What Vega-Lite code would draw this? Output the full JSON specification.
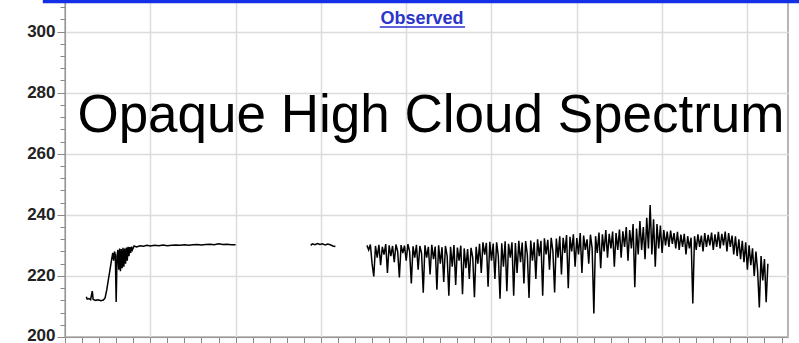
{
  "$schema": "https://vega.github.io/schema/vega-lite/v6.json",
  "width": 723,
  "height": 336,
  "autosize": {"type": "none"},
  "padding": {"left": 65, "top": 1, "right": 11, "bottom": 6},
  "background": "white",
  "config": {
    "view": {"stroke": "#b5b5b5", "strokeWidth": 2},
    "font": "Liberation Sans"
  },
  "datasets": {
    "spectrum": [
      {"seg": 1, "x": 625, "y": 213.2}, {"seg": 1, "x": 626, "y": 212.4}, {"seg": 1, "x": 628, "y": 212.6}, {"seg": 1, "x": 630, "y": 212.2},
      {"seg": 1, "x": 632, "y": 215.0}, {"seg": 1, "x": 633, "y": 212.3}, {"seg": 1, "x": 636, "y": 212.0}, {"seg": 1, "x": 639, "y": 212.2},
      {"seg": 1, "x": 642, "y": 211.9}, {"seg": 1, "x": 645, "y": 212.1}, {"seg": 1, "x": 647, "y": 212.8}, {"seg": 1, "x": 649, "y": 215.5},
      {"seg": 1, "x": 651, "y": 219.0}, {"seg": 1, "x": 653, "y": 222.5}, {"seg": 1, "x": 655, "y": 226.0}, {"seg": 1, "x": 656, "y": 227.5},
      {"seg": 1, "x": 657, "y": 225.0}, {"seg": 1, "x": 658, "y": 228.0}, {"seg": 1, "x": 659, "y": 227.0}, {"seg": 1, "x": 660, "y": 211.5},
      {"seg": 1, "x": 661, "y": 226.5}, {"seg": 1, "x": 662, "y": 228.5}, {"seg": 1, "x": 663, "y": 222.0}, {"seg": 1, "x": 664, "y": 229.0},
      {"seg": 1, "x": 665, "y": 221.5}, {"seg": 1, "x": 666, "y": 228.8}, {"seg": 1, "x": 667, "y": 222.5}, {"seg": 1, "x": 668, "y": 229.2},
      {"seg": 1, "x": 669, "y": 223.0}, {"seg": 1, "x": 670, "y": 229.0}, {"seg": 1, "x": 671, "y": 224.0}, {"seg": 1, "x": 672, "y": 229.3},
      {"seg": 1, "x": 673, "y": 225.0}, {"seg": 1, "x": 674, "y": 229.5}, {"seg": 1, "x": 675, "y": 226.5}, {"seg": 1, "x": 676, "y": 229.4},
      {"seg": 1, "x": 677, "y": 227.5}, {"seg": 1, "x": 678, "y": 229.6}, {"seg": 1, "x": 679, "y": 228.5}, {"seg": 1, "x": 681, "y": 229.8},
      {"seg": 1, "x": 684, "y": 229.5}, {"seg": 1, "x": 688, "y": 229.9}, {"seg": 1, "x": 692, "y": 229.7}, {"seg": 1, "x": 696, "y": 230.0},
      {"seg": 1, "x": 700, "y": 229.8}, {"seg": 1, "x": 705, "y": 230.0}, {"seg": 1, "x": 710, "y": 229.9}, {"seg": 1, "x": 715, "y": 230.1},
      {"seg": 1, "x": 720, "y": 229.9}, {"seg": 1, "x": 725, "y": 230.0}, {"seg": 1, "x": 730, "y": 230.1}, {"seg": 1, "x": 735, "y": 230.0},
      {"seg": 1, "x": 740, "y": 230.2}, {"seg": 1, "x": 745, "y": 230.0}, {"seg": 1, "x": 750, "y": 230.2}, {"seg": 1, "x": 755, "y": 230.3},
      {"seg": 1, "x": 760, "y": 230.1}, {"seg": 1, "x": 765, "y": 230.3}, {"seg": 1, "x": 770, "y": 230.4}, {"seg": 1, "x": 775, "y": 230.2},
      {"seg": 1, "x": 780, "y": 230.5}, {"seg": 1, "x": 785, "y": 230.3}, {"seg": 1, "x": 790, "y": 230.4}, {"seg": 1, "x": 795, "y": 230.2},
      {"seg": 1, "x": 800, "y": 230.2},
      {"seg": 2, "x": 888, "y": 230.0}, {"seg": 2, "x": 890, "y": 230.5}, {"seg": 2, "x": 893, "y": 230.2}, {"seg": 2, "x": 896, "y": 230.6},
      {"seg": 2, "x": 899, "y": 230.3}, {"seg": 2, "x": 902, "y": 230.5}, {"seg": 2, "x": 905, "y": 230.1}, {"seg": 2, "x": 908, "y": 230.4},
      {"seg": 2, "x": 911, "y": 230.2}, {"seg": 2, "x": 914, "y": 229.8}, {"seg": 2, "x": 917, "y": 229.6},
      {"seg": 3, "x": 954, "y": 230.0}, {"seg": 3, "x": 956, "y": 228.5}, {"seg": 3, "x": 958, "y": 230.3}, {"seg": 3, "x": 960, "y": 224.0},
      {"seg": 3, "x": 962, "y": 219.8}, {"seg": 3, "x": 964, "y": 229.8}, {"seg": 3, "x": 966, "y": 226.0}, {"seg": 3, "x": 968, "y": 230.2},
      {"seg": 3, "x": 970, "y": 223.5}, {"seg": 3, "x": 972, "y": 229.5}, {"seg": 3, "x": 974, "y": 227.0}, {"seg": 3, "x": 976, "y": 230.4},
      {"seg": 3, "x": 978, "y": 221.0}, {"seg": 3, "x": 980, "y": 230.0}, {"seg": 3, "x": 982, "y": 226.5}, {"seg": 3, "x": 984, "y": 229.8},
      {"seg": 3, "x": 986, "y": 224.5}, {"seg": 3, "x": 988, "y": 230.3}, {"seg": 3, "x": 990, "y": 228.0}, {"seg": 3, "x": 992, "y": 219.5},
      {"seg": 3, "x": 994, "y": 230.1}, {"seg": 3, "x": 996, "y": 227.5}, {"seg": 3, "x": 998, "y": 229.9}, {"seg": 3, "x": 1000, "y": 225.0},
      {"seg": 3, "x": 1002, "y": 230.4}, {"seg": 3, "x": 1004, "y": 228.0}, {"seg": 3, "x": 1006, "y": 217.5}, {"seg": 3, "x": 1008, "y": 229.7},
      {"seg": 3, "x": 1010, "y": 226.0}, {"seg": 3, "x": 1012, "y": 230.2}, {"seg": 3, "x": 1014, "y": 222.0}, {"seg": 3, "x": 1016, "y": 229.8},
      {"seg": 3, "x": 1018, "y": 227.5}, {"seg": 3, "x": 1020, "y": 214.5}, {"seg": 3, "x": 1022, "y": 230.0}, {"seg": 3, "x": 1024, "y": 226.0},
      {"seg": 3, "x": 1026, "y": 229.5}, {"seg": 3, "x": 1028, "y": 220.5}, {"seg": 3, "x": 1030, "y": 230.2}, {"seg": 3, "x": 1032, "y": 225.5},
      {"seg": 3, "x": 1034, "y": 229.6}, {"seg": 3, "x": 1036, "y": 215.5}, {"seg": 3, "x": 1038, "y": 230.0}, {"seg": 3, "x": 1040, "y": 224.0},
      {"seg": 3, "x": 1042, "y": 229.4}, {"seg": 3, "x": 1044, "y": 218.0}, {"seg": 3, "x": 1046, "y": 229.8}, {"seg": 3, "x": 1048, "y": 226.5},
      {"seg": 3, "x": 1050, "y": 213.5}, {"seg": 3, "x": 1052, "y": 229.5}, {"seg": 3, "x": 1054, "y": 223.0}, {"seg": 3, "x": 1056, "y": 230.1},
      {"seg": 3, "x": 1058, "y": 217.0}, {"seg": 3, "x": 1060, "y": 229.3}, {"seg": 3, "x": 1062, "y": 225.0}, {"seg": 3, "x": 1064, "y": 229.9},
      {"seg": 3, "x": 1066, "y": 214.0}, {"seg": 3, "x": 1068, "y": 229.0}, {"seg": 3, "x": 1070, "y": 222.5}, {"seg": 3, "x": 1072, "y": 228.8},
      {"seg": 3, "x": 1074, "y": 219.0}, {"seg": 3, "x": 1076, "y": 229.2}, {"seg": 3, "x": 1078, "y": 226.0}, {"seg": 3, "x": 1080, "y": 213.0},
      {"seg": 3, "x": 1082, "y": 229.5}, {"seg": 3, "x": 1084, "y": 224.0}, {"seg": 3, "x": 1086, "y": 230.5}, {"seg": 3, "x": 1088, "y": 221.0},
      {"seg": 3, "x": 1090, "y": 231.0}, {"seg": 3, "x": 1092, "y": 227.0}, {"seg": 3, "x": 1094, "y": 230.8}, {"seg": 3, "x": 1096, "y": 216.5},
      {"seg": 3, "x": 1098, "y": 231.2}, {"seg": 3, "x": 1100, "y": 225.0}, {"seg": 3, "x": 1102, "y": 230.6}, {"seg": 3, "x": 1104, "y": 219.0},
      {"seg": 3, "x": 1106, "y": 231.0}, {"seg": 3, "x": 1108, "y": 226.5}, {"seg": 3, "x": 1110, "y": 212.5}, {"seg": 3, "x": 1112, "y": 230.7},
      {"seg": 3, "x": 1114, "y": 223.0}, {"seg": 3, "x": 1116, "y": 231.3}, {"seg": 3, "x": 1118, "y": 215.0}, {"seg": 3, "x": 1120, "y": 230.5},
      {"seg": 3, "x": 1122, "y": 226.0}, {"seg": 3, "x": 1124, "y": 231.0}, {"seg": 3, "x": 1126, "y": 213.5}, {"seg": 3, "x": 1128, "y": 230.8},
      {"seg": 3, "x": 1130, "y": 221.0}, {"seg": 3, "x": 1132, "y": 231.5}, {"seg": 3, "x": 1134, "y": 224.5}, {"seg": 3, "x": 1136, "y": 230.9},
      {"seg": 3, "x": 1138, "y": 217.5}, {"seg": 3, "x": 1140, "y": 231.4}, {"seg": 3, "x": 1142, "y": 227.0}, {"seg": 3, "x": 1144, "y": 212.8},
      {"seg": 3, "x": 1146, "y": 231.6}, {"seg": 3, "x": 1148, "y": 225.0}, {"seg": 3, "x": 1150, "y": 231.0}, {"seg": 3, "x": 1152, "y": 219.0},
      {"seg": 3, "x": 1154, "y": 232.0}, {"seg": 3, "x": 1156, "y": 226.5}, {"seg": 3, "x": 1158, "y": 231.5}, {"seg": 3, "x": 1160, "y": 213.5},
      {"seg": 3, "x": 1162, "y": 232.3}, {"seg": 3, "x": 1164, "y": 227.0}, {"seg": 3, "x": 1166, "y": 231.8}, {"seg": 3, "x": 1168, "y": 222.0},
      {"seg": 3, "x": 1170, "y": 232.5}, {"seg": 3, "x": 1172, "y": 228.0}, {"seg": 3, "x": 1174, "y": 214.6}, {"seg": 3, "x": 1176, "y": 232.2},
      {"seg": 3, "x": 1178, "y": 226.0}, {"seg": 3, "x": 1180, "y": 233.0}, {"seg": 3, "x": 1182, "y": 220.5}, {"seg": 3, "x": 1184, "y": 232.5},
      {"seg": 3, "x": 1186, "y": 227.5}, {"seg": 3, "x": 1188, "y": 233.4}, {"seg": 3, "x": 1190, "y": 216.0}, {"seg": 3, "x": 1192, "y": 232.8},
      {"seg": 3, "x": 1194, "y": 228.0}, {"seg": 3, "x": 1196, "y": 233.6}, {"seg": 3, "x": 1198, "y": 223.0}, {"seg": 3, "x": 1200, "y": 232.4},
      {"seg": 3, "x": 1202, "y": 227.0}, {"seg": 3, "x": 1204, "y": 234.0}, {"seg": 3, "x": 1206, "y": 221.0}, {"seg": 3, "x": 1208, "y": 233.2},
      {"seg": 3, "x": 1210, "y": 228.5}, {"seg": 3, "x": 1212, "y": 232.0}, {"seg": 3, "x": 1214, "y": 224.0}, {"seg": 3, "x": 1216, "y": 233.5},
      {"seg": 3, "x": 1218, "y": 229.0}, {"seg": 3, "x": 1220, "y": 207.7}, {"seg": 3, "x": 1222, "y": 233.0}, {"seg": 3, "x": 1224, "y": 227.5},
      {"seg": 3, "x": 1226, "y": 234.2}, {"seg": 3, "x": 1228, "y": 222.5}, {"seg": 3, "x": 1230, "y": 233.6}, {"seg": 3, "x": 1232, "y": 228.0},
      {"seg": 3, "x": 1234, "y": 235.0}, {"seg": 3, "x": 1236, "y": 226.0}, {"seg": 3, "x": 1238, "y": 233.8}, {"seg": 3, "x": 1240, "y": 229.0},
      {"seg": 3, "x": 1242, "y": 234.5}, {"seg": 3, "x": 1244, "y": 223.0}, {"seg": 3, "x": 1246, "y": 234.0}, {"seg": 3, "x": 1248, "y": 228.5},
      {"seg": 3, "x": 1250, "y": 235.2}, {"seg": 3, "x": 1252, "y": 226.0}, {"seg": 3, "x": 1254, "y": 234.6}, {"seg": 3, "x": 1256, "y": 229.5},
      {"seg": 3, "x": 1258, "y": 236.0}, {"seg": 3, "x": 1260, "y": 225.0}, {"seg": 3, "x": 1262, "y": 235.0}, {"seg": 3, "x": 1264, "y": 229.0},
      {"seg": 3, "x": 1266, "y": 237.0}, {"seg": 3, "x": 1268, "y": 216.3}, {"seg": 3, "x": 1270, "y": 235.5}, {"seg": 3, "x": 1272, "y": 227.0},
      {"seg": 3, "x": 1274, "y": 238.0}, {"seg": 3, "x": 1276, "y": 228.5}, {"seg": 3, "x": 1278, "y": 236.0}, {"seg": 3, "x": 1280, "y": 225.5},
      {"seg": 3, "x": 1282, "y": 239.0}, {"seg": 3, "x": 1284, "y": 229.0}, {"seg": 3, "x": 1286, "y": 243.2}, {"seg": 3, "x": 1288, "y": 227.0},
      {"seg": 3, "x": 1290, "y": 238.5}, {"seg": 3, "x": 1292, "y": 223.0}, {"seg": 3, "x": 1294, "y": 237.0}, {"seg": 3, "x": 1296, "y": 229.0},
      {"seg": 3, "x": 1298, "y": 236.5}, {"seg": 3, "x": 1300, "y": 227.5}, {"seg": 3, "x": 1302, "y": 235.0}, {"seg": 3, "x": 1304, "y": 230.0},
      {"seg": 3, "x": 1306, "y": 234.5}, {"seg": 3, "x": 1308, "y": 229.5}, {"seg": 3, "x": 1310, "y": 234.8}, {"seg": 3, "x": 1312, "y": 230.5},
      {"seg": 3, "x": 1314, "y": 234.0}, {"seg": 3, "x": 1316, "y": 229.0}, {"seg": 3, "x": 1318, "y": 234.4}, {"seg": 3, "x": 1320, "y": 228.5},
      {"seg": 3, "x": 1322, "y": 233.5}, {"seg": 3, "x": 1324, "y": 229.5}, {"seg": 3, "x": 1326, "y": 233.8}, {"seg": 3, "x": 1328, "y": 227.0},
      {"seg": 3, "x": 1330, "y": 233.0}, {"seg": 3, "x": 1332, "y": 229.0}, {"seg": 3, "x": 1334, "y": 232.5}, {"seg": 3, "x": 1336, "y": 211.0},
      {"seg": 3, "x": 1338, "y": 233.0}, {"seg": 3, "x": 1340, "y": 228.5}, {"seg": 3, "x": 1342, "y": 233.6}, {"seg": 3, "x": 1344, "y": 229.5},
      {"seg": 3, "x": 1346, "y": 233.2}, {"seg": 3, "x": 1348, "y": 228.0}, {"seg": 3, "x": 1350, "y": 234.0}, {"seg": 3, "x": 1352, "y": 229.5},
      {"seg": 3, "x": 1354, "y": 233.4}, {"seg": 3, "x": 1356, "y": 230.0}, {"seg": 3, "x": 1358, "y": 234.2}, {"seg": 3, "x": 1360, "y": 228.5},
      {"seg": 3, "x": 1362, "y": 233.6}, {"seg": 3, "x": 1364, "y": 229.5}, {"seg": 3, "x": 1366, "y": 234.4}, {"seg": 3, "x": 1368, "y": 229.0},
      {"seg": 3, "x": 1370, "y": 233.8}, {"seg": 3, "x": 1372, "y": 230.0}, {"seg": 3, "x": 1374, "y": 234.5}, {"seg": 3, "x": 1376, "y": 228.0},
      {"seg": 3, "x": 1378, "y": 234.0}, {"seg": 3, "x": 1380, "y": 229.5}, {"seg": 3, "x": 1382, "y": 233.2}, {"seg": 3, "x": 1384, "y": 227.0},
      {"seg": 3, "x": 1386, "y": 233.0}, {"seg": 3, "x": 1388, "y": 226.5}, {"seg": 3, "x": 1390, "y": 232.0}, {"seg": 3, "x": 1392, "y": 225.5},
      {"seg": 3, "x": 1394, "y": 231.5}, {"seg": 3, "x": 1396, "y": 224.5}, {"seg": 3, "x": 1398, "y": 231.0}, {"seg": 3, "x": 1400, "y": 222.0},
      {"seg": 3, "x": 1402, "y": 230.0}, {"seg": 3, "x": 1404, "y": 223.5}, {"seg": 3, "x": 1406, "y": 229.0}, {"seg": 3, "x": 1408, "y": 220.0},
      {"seg": 3, "x": 1410, "y": 228.0}, {"seg": 3, "x": 1412, "y": 221.5}, {"seg": 3, "x": 1414, "y": 209.7}, {"seg": 3, "x": 1416, "y": 226.5},
      {"seg": 3, "x": 1418, "y": 218.5}, {"seg": 3, "x": 1420, "y": 225.5}, {"seg": 3, "x": 1422, "y": 211.4}, {"seg": 3, "x": 1424, "y": 224.0}
    ],
    "topbar": [{"x": 574, "x2": 1462, "y": 309.9}],
    "underline": [{"x": 969, "x2": 1069, "y": 301.5}],
    "observed": [{"x": 1018.5, "y": 302.4, "label": "Observed"}],
    "bigtext": [{"x": 1029, "y": 267.1, "label": "Opaque High Cloud Spectrum"}]
  },
  "encoding": {
    "x": {
      "field": "x", "type": "quantitative",
      "scale": {"domain": [600, 1447.6], "nice": false, "zero": false},
      "axis": {
        "title": null, "labels": false,
        "values": [600,620,640,660,680,700,720,740,760,780,800,820,840,860,880,900,920,940,960,980,1000,1020,1040,1060,1080,1100,1120,1140,1160,1180,1200,1220,1240,1260,1280,1300,1320,1340,1360,1380,1400,1420,1440],
        "domainColor": "#999999", "tickColor": "#888888", "tickSize": 7,
        "gridColor": "#dcdcdc", "gridWidth": 1.5,
        "gridOpacity": {"condition": {"test": "datum.value % 100 === 0", "value": 1}, "value": 0}
      }
    },
    "y": {
      "field": "y", "type": "quantitative",
      "scale": {"domain": [200, 310], "nice": false, "zero": false},
      "axis": {
        "title": null,
        "values": [200,204,208,212,216,220,224,228,232,236,240,244,248,252,256,260,264,268,272,276,280,284,288,292,296,300,304,308],
        "labelExpr": "datum.value % 20 === 0 ? datum.label : ''",
        "labelFont": "Liberation Sans", "labelFontSize": 17, "labelFontWeight": "bold", "labelColor": "#222222",
        "labelPadding": 2,
        "labelOffset": {"condition": {"test": "datum.value === 200", "value": -1.5}, "value": 0},
        "domainColor": "#999999", "tickColor": "#888888",
        "tickSize": {"condition": {"test": "datum.value % 20 === 0", "value": 8}, "value": 5},
        "gridColor": "#dcdcdc", "gridWidth": 1.5,
        "gridOpacity": {"condition": {"test": "datum.value % 20 === 0", "value": 1}, "value": 0}
      }
    }
  },
  "layer": [
    {
      "data": {"name": "spectrum"},
      "mark": {"type": "line", "color": "#000000", "strokeWidth": 1.5, "clip": true},
      "encoding": {"detail": {"field": "seg", "type": "nominal"}}
    },
    {
      "data": {"name": "bigtext"},
      "mark": {"type": "text", "font": "Liberation Sans", "fontSize": 53, "align": "center", "baseline": "alphabetic", "color": "#000000"},
      "encoding": {"text": {"field": "label"}}
    },
    {
      "data": {"name": "observed"},
      "mark": {"type": "text", "font": "Liberation Sans", "fontSize": 18, "fontWeight": "bold", "align": "center", "baseline": "alphabetic", "color": "#2a35c9"},
      "encoding": {"text": {"field": "label"}}
    },
    {
      "data": {"name": "underline"},
      "mark": {"type": "rule", "color": "#2a35c9", "strokeWidth": 1.5},
      "encoding": {"x2": {"field": "x2"}}
    },
    {
      "data": {"name": "topbar"},
      "mark": {"type": "rule", "color": "#1430e6", "strokeWidth": 4},
      "encoding": {"x2": {"field": "x2"}}
    }
  ]
}
